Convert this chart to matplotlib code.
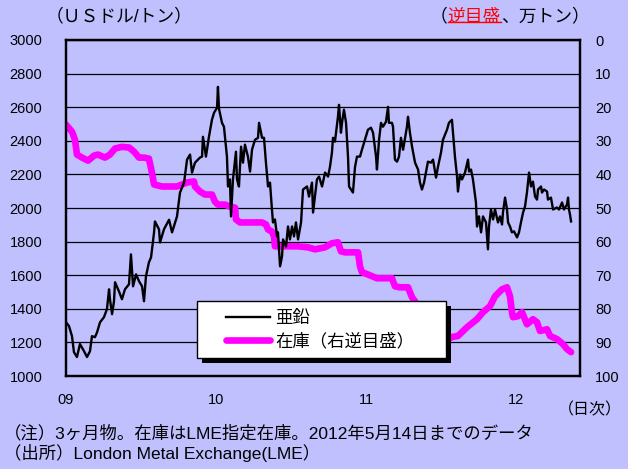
import matplotlib
matplotlib.use('Agg')
import matplotlib.pyplot as plt
from matplotlib.legend_handler import HandlerLine2D
from matplotlib.lines import Line2D
from matplotlib.patches import Rectangle
from matplotlib.transforms import IdentityTransform

plt.rcParams['font.family'] = ['Liberation Sans', 'Noto Sans CJK JP']

# zinc 3-month price (USD/t), time in decimal years
price_t = [2009.000, 2009.020, 2009.040, 2009.053, 2009.073, 2009.093, 2009.120, 2009.140, 2009.160, 2009.173,
           2009.193, 2009.207, 2009.227, 2009.253, 2009.273, 2009.287, 2009.293, 2009.307, 2009.320, 2009.327,
           2009.353, 2009.373, 2009.393, 2009.420, 2009.433, 2009.447, 2009.467, 2009.487, 2009.507, 2009.520,
           2009.533, 2009.553, 2009.567, 2009.587, 2009.593, 2009.620, 2009.627, 2009.653, 2009.687, 2009.707,
           2009.740, 2009.760, 2009.787, 2009.807, 2009.827, 2009.840, 2009.860, 2009.880, 2009.893, 2009.907,
           2009.913, 2009.933, 2009.953, 2009.973, 2009.987, 2010.007, 2010.013, 2010.020, 2010.040, 2010.053,
           2010.073, 2010.080, 2010.093, 2010.100, 2010.113, 2010.133, 2010.140, 2010.153, 2010.167, 2010.180,
           2010.193, 2010.213, 2010.227, 2010.240, 2010.260, 2010.280, 2010.287, 2010.307, 2010.320, 2010.333,
           2010.347, 2010.360, 2010.373, 2010.380, 2010.393, 2010.407, 2010.413, 2010.427, 2010.440, 2010.447,
           2010.467, 2010.480, 2010.493, 2010.507, 2010.520, 2010.533, 2010.547, 2010.567, 2010.580, 2010.607,
           2010.620, 2010.640, 2010.647, 2010.673, 2010.687, 2010.707, 2010.727, 2010.747, 2010.760, 2010.773,
           2010.780, 2010.793, 2010.813, 2010.820, 2010.833, 2010.840, 2010.853, 2010.867, 2010.880, 2010.887,
           2010.900, 2010.913, 2010.927, 2010.940, 2010.960, 2010.973, 2010.993, 2011.013, 2011.033, 2011.047,
           2011.067, 2011.073, 2011.087, 2011.100, 2011.113, 2011.133, 2011.147, 2011.153, 2011.173, 2011.180,
           2011.193, 2011.207, 2011.220, 2011.233, 2011.247, 2011.253, 2011.273, 2011.280, 2011.293, 2011.307,
           2011.327, 2011.347, 2011.360, 2011.373, 2011.387, 2011.407, 2011.413, 2011.433, 2011.447, 2011.467,
           2011.480, 2011.500, 2011.513, 2011.540, 2011.553, 2011.573, 2011.580, 2011.593, 2011.607, 2011.613,
           2011.627, 2011.640, 2011.660, 2011.680, 2011.687, 2011.700, 2011.713, 2011.733, 2011.740, 2011.753,
           2011.767, 2011.780, 2011.800, 2011.813, 2011.820, 2011.833, 2011.847, 2011.860, 2011.880, 2011.893,
           2011.907, 2011.913, 2011.927, 2011.940, 2011.947, 2011.960, 2011.973, 2011.987, 2012.007, 2012.020,
           2012.033, 2012.047, 2012.060, 2012.073, 2012.087, 2012.100, 2012.113, 2012.127, 2012.140, 2012.147,
           2012.167, 2012.173, 2012.187, 2012.207, 2012.213, 2012.233, 2012.247, 2012.273, 2012.287, 2012.307,
           2012.320, 2012.340, 2012.347, 2012.353, 2012.360, 2012.367]
price = [1320, 1297, 1237, 1142, 1113, 1190, 1148, 1113, 1148, 1237,
         1231, 1260, 1320, 1350, 1398, 1516, 1457, 1368, 1445, 1558,
         1504, 1457, 1516, 1546, 1724, 1534, 1605, 1564, 1534, 1445,
         1593, 1677, 1706, 1855, 1920, 1873, 1795, 1873, 1930, 1855,
         1950, 2092, 2151, 2288, 2318, 2211, 2270, 2288, 2300, 2306,
         2424, 2306, 2424, 2525, 2567, 2597, 2721, 2590, 2507, 2484,
         2306, 2128, 2170, 1950, 2170, 2335, 2170, 2128, 2365, 2270,
         2377, 2306, 2217, 2347, 2406, 2418, 2507, 2418, 2418, 2270,
         2128, 2151, 1991, 1914, 1932, 1831, 1855, 1653, 1712, 1813,
         1771, 1890, 1813, 1890, 1831, 1914, 1813, 1914, 2110, 2128,
         2068, 2151, 1973, 2170, 2187, 2128, 2211, 2187, 2246, 2330,
         2418, 2395, 2543, 2614, 2448, 2507, 2585, 2507, 2306, 2128,
         2110, 2092, 2246, 2306, 2306, 2347, 2406, 2466, 2478, 2448,
         2306, 2229, 2406, 2507, 2484, 2513, 2602, 2507, 2507, 2484,
         2288, 2276, 2306, 2418, 2347, 2377, 2484, 2543, 2448, 2365,
         2270, 2229, 2151, 2110, 2151, 2246, 2276, 2270, 2288, 2181,
         2246, 2330, 2406, 2466, 2507, 2525, 2448, 2306, 2187, 2098,
         2199, 2170, 2211, 2288, 2217, 2229, 2170, 2033, 1890, 1950,
         1855, 1950, 1914, 1754, 1890, 1991, 1932, 1991, 1914, 1950,
         1902, 1973, 2062, 1991, 1914, 1890, 1855, 1861, 1825, 1855,
         1914, 1973, 2009, 2092, 2211, 2128, 2157, 2068, 2050, 2110,
         2128, 2092, 2110, 2098, 2050, 2062, 1991, 2003, 1991, 2033,
         1991, 2021, 2062, 1991, 1961, 1920]

# LME zinc stocks (10,000 t), plotted on reversed right axis
stock_t = [2009.000, 2009.040, 2009.060, 2009.073, 2009.107, 2009.147, 2009.187, 2009.213, 2009.260, 2009.293,
           2009.327, 2009.373, 2009.420, 2009.453, 2009.487, 2009.520, 2009.553, 2009.573, 2009.587, 2009.640,
           2009.687, 2009.740, 2009.773, 2009.807, 2009.853, 2009.860, 2009.893, 2009.927, 2009.973, 2009.993,
           2010.013, 2010.060, 2010.093, 2010.127, 2010.133, 2010.160, 2010.213, 2010.260, 2010.307, 2010.333,
           2010.347, 2010.373, 2010.387, 2010.393, 2010.440, 2010.507, 2010.547, 2010.613, 2010.660, 2010.727,
           2010.773, 2010.813, 2010.833, 2010.860, 2010.907, 2010.947, 2010.960, 2010.973, 2011.007, 2011.040,
           2011.073, 2011.173, 2011.193, 2011.227, 2011.280, 2011.307, 2011.347, 2011.393, 2011.440, 2011.493,
           2011.533, 2011.573, 2011.613, 2011.673, 2011.740, 2011.780, 2011.827, 2011.860, 2011.907, 2011.940,
           2011.960, 2011.973, 2011.980, 2012.013, 2012.040, 2012.073, 2012.113, 2012.140, 2012.160, 2012.207,
           2012.227, 2012.273, 2012.313, 2012.340, 2012.367]
stock = [25.2, 27.3, 29.7, 34.1, 35.0, 35.9, 34.4, 34.1, 35.0, 34.1,
         32.3, 31.8, 32.0, 33.2, 35.0, 35.0, 35.3, 39.5, 43.0, 43.6,
         43.6, 43.6, 43.0, 42.4, 42.1, 43.6, 45.1, 46.0, 46.0, 48.1,
         49.0, 49.0, 49.6, 49.9, 53.4, 54.3, 54.3, 54.3, 54.3, 54.9,
         56.4, 57.0, 58.5, 61.4, 61.4, 61.4, 61.4, 61.7, 62.3, 61.7,
         60.5, 60.2, 62.9, 63.2, 63.2, 63.2, 67.4, 69.1, 69.7, 70.3,
         70.9, 70.9, 73.3, 73.6, 73.6, 76.6, 79.0, 82.0, 85.0, 88.0,
         89.5, 88.4, 88.1, 85.5, 83.1, 81.0, 79.2, 76.3, 74.2, 73.6,
         76.3, 81.0, 82.5, 82.2, 81.0, 84.6, 83.1, 84.0, 86.6, 86.1,
         88.1, 89.0, 90.5, 92.0, 92.9]

years = [2009, 2010, 2011, 2012]
year_labels = ['09', '10', '11', '12']
price_ticks = list(range(1000, 3001, 200))
stock_ticks = list(range(0, 101, 10))

W, H = 628, 469
bg = '#C0C0FF'
fig = plt.figure(figsize=(W / 100, H / 100), dpi=100, facecolor=bg)
ax = fig.add_axes([66 / W, 1 - 376 / H, 514 / W, 336 / H])
ax2 = ax.twinx()
ax.set_zorder(2)
ax2.set_zorder(1)
ax.patch.set_visible(False)
ax2.patch.set_facecolor('white')

# stocks below, price on top
h2, = ax2.plot(stock_t, stock, color='#FF00FF', lw=4.8,
               solid_capstyle='round', solid_joinstyle='round')
h1, = ax.plot(price_t, price, color='black', lw=1.7)

ax.set_xlim(2009.0, 2009.0 + 514 / 150)
ax.set_ylim(1000, 3000)
ax.set_yticks(price_ticks)
ax2.set_ylim(100, 0)
ax2.set_yticks(stock_ticks)
ax2.yaxis.grid(True, color='black', lw=0.9)
ax.set_xticks(years)
ax.set_xticklabels(year_labels)

ax.tick_params(axis='y', length=0, pad=17, labelsize=10.5)
ax.tick_params(axis='x', length=0, pad=12, labelsize=10.5)
ax2.tick_params(axis='y', length=0, pad=11, labelsize=10.5)
for a in (ax, ax2):
    for s in a.spines.values():
        s.set_linewidth(1.6)
        s.set_color('black')

leg = ax.legend([h1, h2], ['亜鉛', '在庫（右逆目盛）'], loc='upper left',
                bbox_to_anchor=(0.255, 0.039, 0.484, 0.184), mode='expand',
                borderaxespad=0, fontsize=12.5, fancybox=False, framealpha=1,
                edgecolor='black', borderpad=0.5, labelspacing=0.4,
                handlelength=3.7, handletextpad=0.3,
                handler_map={Line2D: HandlerLine2D(xpad=1.15)})
leg.get_frame().set_linewidth(1.0)

# axis captions
fig.text(46 / W, 1 - 17 / H, '（ＵＳドル/トン）', fontsize=12.8, va='center')
t1 = fig.text(430 / W, 1 - 17 / H, '（', fontsize=12.8, va='center')
t2 = ax.annotate('逆目盛', xy=(1, 0), xycoords=t1, va='bottom', ha='left',
                 fontsize=12.8, color='red', annotation_clip=False)
t3 = ax.annotate('、万トン）', xy=(1, 0), xycoords=t2, va='bottom', ha='left',
                 fontsize=12.8, annotation_clip=False)
fig.text(622 / W, 1 - 410 / H, '（日次）', fontsize=11.5, va='center', ha='right')
fig.text(4 / W, 1 - 433 / H, '（注）3ヶ月物。在庫はLME指定在庫。2012年5月14日までのデータ',
         fontsize=12.5, va='center')
fig.text(4 / W, 1 - 453 / H, '（出所）London Metal Exchange(LME）', fontsize=12.5, va='center')

# legend drop shadow and underline need the rendered extents
fig.canvas.draw()
bb = leg.get_window_extent()
shadow = Rectangle((bb.x0 + 5, bb.y0 - 5), bb.width, bb.height, transform=IdentityTransform(),
                   facecolor='black', edgecolor='none', zorder=leg.get_zorder() - 0.1)
ax.add_artist(shadow)
tb = t2.get_window_extent()
fig.add_artist(Line2D([tb.x0, tb.x1], [tb.y0 + 3, tb.y0 + 3], transform=IdentityTransform(),
                      color='red', lw=1.0))

fig.savefig('out.png', dpi=100, facecolor=bg)
